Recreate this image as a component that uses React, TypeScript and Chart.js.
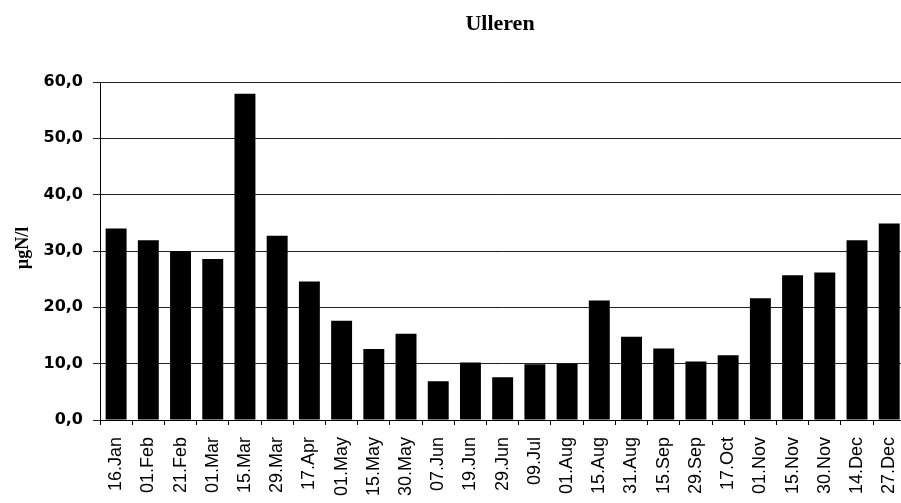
import React, { useEffect, useRef } from "react";
import { Chart, registerables } from "chart.js";

Chart.register(...registerables);

const chartTitle = "Ulleren";
const yAxisTitle = "µgN/l";
const categories = [
  "16.Jan", "01.Feb", "21.Feb", "01.Mar", "15.Mar", "29.Mar", "17.Apr", "01.May",
  "15.May", "30.May", "07.Jun", "19.Jun", "29.Jun", "09.Jul", "01.Aug", "15.Aug",
  "31.Aug", "15.Sep", "29.Sep", "17.Oct", "01.Nov", "15.Nov", "30.Nov", "14.Dec", "27.Dec",
];
const values = [
  34.0, 31.9, 30.0, 28.6, 57.9, 32.7, 24.6, 17.6, 12.6, 15.3, 6.9, 10.2, 7.6, 9.9,
  10.0, 21.2, 14.8, 12.7, 10.4, 11.5, 21.6, 25.7, 26.2, 31.9, 34.9,
];
const yMin = 0;
const yMax = 60;
const yStep = 10;

const textPlugin = {
  id: "textPlugin",
  afterDraw(chart: any) {
    const ctx = chart.ctx;
    ctx.save();
    ctx.fillStyle = "#000";
    ctx.textAlign = "center";
    ctx.textBaseline = "middle";
    ctx.font = "bold 22px 'Liberation Serif', serif";
    ctx.fillText(chartTitle, 500, 24);
    ctx.translate(23, 248);
    ctx.rotate(-Math.PI / 2);
    ctx.font = "bold 18px 'Liberation Serif', serif";
    ctx.fillText(yAxisTitle, 0, 0);
    ctx.restore();
  },
};

export default function App() {
  const ref = useRef<HTMLCanvasElement | null>(null);
  useEffect(() => {
    if (!ref.current) return;
    const chart = new Chart(ref.current, {
      type: "bar",
      data: {
        labels: categories,
        datasets: [
          {
            data: values,
            backgroundColor: "#000",
            borderWidth: 0,
            barPercentage: 0.65,
            categoryPercentage: 1,
          },
        ],
      },
      options: {
        responsive: false,
        animation: false,
        devicePixelRatio: 1,
        layout: { padding: { top: 82, right: 9, left: 0, bottom: 0 } },
        plugins: { legend: { display: false }, title: { display: false }, tooltip: { enabled: false } },
        scales: {
          x: {
            grid: {
              display: true,
              drawOnChartArea: false,
              drawTicks: true,
              tickLength: 5,
              color: "#000",
              offset: true,
            },
            border: { display: true, color: "#000", width: 1 },
            ticks: {
              color: "#000",
              minRotation: 90,
              maxRotation: 90,
              autoSkip: false,
              padding: 12,
              font: { family: "'Liberation Sans', Arial, sans-serif", size: 18 },
            },
            afterFit(scale: any) {
              scale.height = 83;
            },
          },
          y: {
            min: yMin,
            max: yMax,
            grid: { color: "#222", lineWidth: 1, tickLength: 7, drawTicks: true },
            border: { display: true, color: "#000", width: 1 },
            ticks: {
              stepSize: yStep,
              color: "#000",
              padding: 10,
              font: { family: "'DejaVu Sans', sans-serif", size: 16, weight: "bold" },
              callback: (v: any) => Number(v).toFixed(1).replace(".", ","),
            },
            afterFit(scale: any) {
              scale.width = 100;
            },
          },
        },
      },
      plugins: [textPlugin],
    });
    return () => chart.destroy();
  }, []);
  return (
    <div style={{ position: "absolute", left: 0, top: 0, width: 901, height: 503, overflow: "hidden", background: "#fff" }}>
      <canvas ref={ref} width={923} height={503} style={{ display: "block" }} />
    </div>
  );
}
